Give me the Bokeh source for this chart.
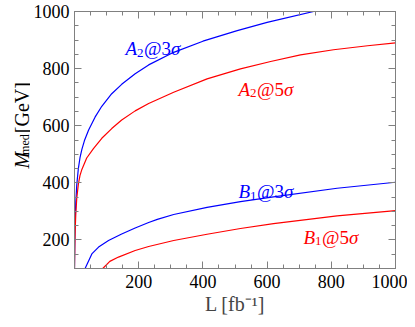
import math
from bokeh.plotting import figure
from bokeh.layouts import row
from bokeh.models import LinearAxis, FixedTicker, Label, Range1d
from bokeh.embed import file_html
from bokeh.resources import INLINE

# ---- data ----
L_A2_3 = [0, 1, 2, 4, 7, 12, 17, 23, 31, 44, 64, 85, 116, 147, 189, 231, 309, 400, 507, 600, 745]
M_A2_3 = [100, 210, 265, 330, 392, 450, 487, 517, 548, 585, 630, 668, 712, 745, 782, 813, 857, 896, 933, 962, 1000]

L_A2_5 = [0, 1, 2, 4, 7, 12, 17, 23, 38, 59, 85, 116, 147, 189, 231, 309, 413, 517, 611, 704, 807, 913, 1000]
M_A2_5 = [100, 180, 230, 290, 345, 395, 425, 447, 487, 520, 556, 590, 620, 652, 678, 717, 764, 799, 825, 848, 866, 880, 890]

L_B1_3 = [33, 54, 75, 106, 147, 189, 231, 258, 309, 413, 517, 620, 818, 1000]
M_B1_3 = [100, 151, 175, 198, 221, 242, 261, 272, 289, 314, 334, 351, 381, 402]

L_B1_5 = [88, 110, 137, 189, 231, 309, 413, 517, 620, 818, 1000]
M_B1_5 = [100, 125, 140, 163, 177, 198, 220, 240, 257, 284, 303]

x_ticks = [200, 400, 600, 800, 1000]
y_ticks = [200, 400, 600, 800, 1000]
x_minor = list(range(0, 1001, 50))
y_minor = list(range(100, 1001, 50))

BLUE = "#0000ff"
RED = "#ff0000"
FRAME = "#808080"
FONT = "Liberation Serif"

H = 319
LW = 30            # width of the strip holding the rotated y-axis title
W = 377
BL, BR, BT, BB = 44, 12, 11, 51

p = figure(width=W, height=H, x_range=Range1d(0, 1000), y_range=Range1d(100, 1000),
           output_backend="svg", toolbar_location=None,
           x_axis_location=None, y_axis_location=None,
           min_border_left=BL, min_border_right=BR, min_border_top=BT, min_border_bottom=BB)
p.xgrid.visible = False
p.ygrid.visible = False
p.outline_line_color = FRAME
p.background_fill_color = "white"
p.border_fill_color = "white"

def style_axis(ax, show_labels):
    ax.axis_line_color = FRAME
    ax.major_tick_line_color = FRAME
    ax.minor_tick_line_color = FRAME
    ax.major_tick_in = 7
    ax.major_tick_out = 0
    ax.minor_tick_in = 4
    ax.minor_tick_out = 0
    ax.major_label_text_font = FONT
    if show_labels:
        ax.major_label_text_color = "black"
        ax.major_label_text_font_size = "18px"
    else:
        ax.major_label_text_color = None
        ax.major_label_text_font_size = "0px"
        ax.major_label_standoff = 0

xt = FixedTicker(ticks=x_ticks, minor_ticks=x_minor)
yt = FixedTicker(ticks=y_ticks, minor_ticks=y_minor)

bottom = LinearAxis(ticker=xt, axis_label="L [fb\u207b\u00b9]")
style_axis(bottom, True)
bottom.major_label_standoff = 6
bottom.axis_label_text_font = FONT
bottom.axis_label_text_font_size = "20px"
bottom.axis_label_text_font_style = "normal"
bottom.axis_label_standoff = 2
p.add_layout(bottom, "below")

left = LinearAxis(ticker=yt)
style_axis(left, True)
left.major_label_standoff = 5
p.add_layout(left, "left")

top = LinearAxis(ticker=xt)
style_axis(top, False)
p.add_layout(top, "above")

right = LinearAxis(ticker=yt)
style_axis(right, False)
p.add_layout(right, "right")

p.line(L_A2_3, M_A2_3, line_color=BLUE, line_width=1.2)
p.line(L_A2_5, M_A2_5, line_color=RED, line_width=1.2)
p.line(L_B1_3, M_B1_3, line_color=BLUE, line_width=1.2)
p.line(L_B1_5, M_B1_5, line_color=RED, line_width=1.2)

# pixel (in the 415x327 picture) -> data helpers for annotation placement
X0, X1, Y0, Y1 = 74.0, 395.0, 268.0, 11.0
def dx(px):
    return (px - X0) / (X1 - X0) * 1000.0
def dy(py):
    return 100.0 + (Y0 - py) / (Y0 - Y1) * 900.0

def curve_label(px, py, letter, sub, mid, color, fs=19):
    sfs = round(fs * 0.68)
    aw = 0.611 * fs
    sw = 0.5 * sfs
    mw = (0.921 + 0.5) * fs
    pieces = [
        (px, py, letter, fs, "italic"),
        (px + aw, py + 4, sub, sfs, "normal"),
        (px + aw + sw + 0.5, py, "@" + mid, fs, "normal"),
        (px + aw + sw + 0.5 + mw, py, "\u03c3", fs, "italic"),
    ]
    for (x, y, t, s, st) in pieces:
        p.add_layout(Label(x=dx(x), y=dy(y), text=t, text_font=FONT, text_font_size=f"{s}px",
                           text_font_style=st, text_color=color, text_baseline="alphabetic",
                           text_align="left"))

curve_label(125, 48, "A", "2", "3", BLUE)
curve_label(238, 88.5, "A", "2", "5", RED)
curve_label(238, 191, "B", "1", "3", BLUE)
curve_label(303, 236.5, "B", "1", "5", RED)

# ---- strip with the rotated y-axis title: M_med [GeV] ----
q = figure(width=LW, height=H, x_range=Range1d(0, LW), y_range=Range1d(0, H),
           output_backend="svg", toolbar_location=None,
           x_axis_location=None, y_axis_location=None,
           min_border_left=0, min_border_right=0, min_border_top=0, min_border_bottom=0)
q.xgrid.visible = False
q.ygrid.visible = False
q.outline_line_color = None
q.background_fill_color = "white"
q.border_fill_color = "white"

ylab = [
    (21, 195, "M", "20px", "italic"),
    (24, 178, "med", "12px", "normal"),
    (21, 151, "[GeV]", "20px", "normal"),
]
for (x, y, t, s, st) in ylab:
    q.add_layout(Label(x=x, y=H - y, text=t, angle=math.pi / 2,
                       text_font=FONT, text_font_size=s, text_font_style=st,
                       text_color="black", text_baseline="alphabetic", text_align="left"))

layout = row(q, p)
open("out.html", "w").write(file_html(layout, INLINE))
